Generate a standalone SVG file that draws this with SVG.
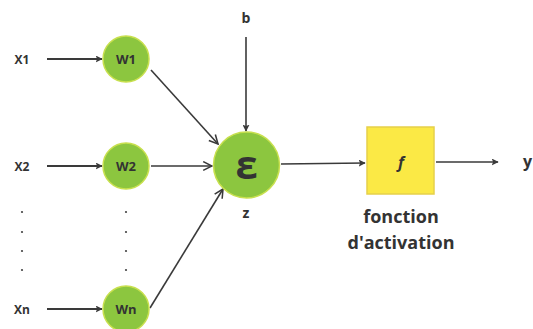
<svg xmlns="http://www.w3.org/2000/svg" width="533" height="329" viewBox="0 0 533 329">
<style>
text{font-family:"Open Sans","Noto Sans","Liberation Sans",sans-serif;font-weight:bold;fill:#333;text-anchor:middle}
.w{fill:#8cc63f;stroke:#c8e04e;stroke-width:1.5}
.ln{stroke:#3a3a3a;stroke-width:1.6;fill:none}
.dot{fill:#444}
</style>
<defs>
<marker id="fa" viewBox="0 0 10 10" refX="9" refY="5" markerWidth="7" markerHeight="7" orient="auto" markerUnits="userSpaceOnUse">
<path d="M0,0 L10,5 L0,10 L2,5 Z" fill="#3a3a3a"/>
</marker>
<marker id="oa" viewBox="0 0 10 10" refX="9" refY="5" markerWidth="11" markerHeight="11" orient="auto" markerUnits="userSpaceOnUse">
<path d="M1,1 L9,5 L1,9" fill="none" stroke="#3a3a3a" stroke-width="1.4"/>
</marker>
</defs>
<rect width="533" height="329" fill="#fff"/>
<g id="connectors">
<line class="ln" x1="47" y1="59" x2="102" y2="59" marker-end="url(#fa)" style="stroke-width:2"/>
<line class="ln" x1="47" y1="166" x2="102" y2="166" marker-end="url(#fa)" style="stroke-width:2"/>
<line class="ln" x1="47" y1="309" x2="102" y2="309" marker-end="url(#fa)" style="stroke-width:2"/>
<line class="ln" x1="151" y1="70" x2="218" y2="144" marker-end="url(#oa)"/>
<line class="ln" x1="151" y1="166" x2="212" y2="166" marker-end="url(#oa)"/>
<line class="ln" x1="150" y1="308" x2="223" y2="189" marker-end="url(#oa)"/>
<line class="ln" x1="246" y1="37" x2="246" y2="131" marker-end="url(#fa)"/>
<line class="ln" x1="281" y1="164" x2="365" y2="163" marker-end="url(#fa)"/>
<line class="ln" x1="436" y1="162" x2="498" y2="162" marker-end="url(#fa)"/>
</g>
<g id="x1"><text x="22" y="64" font-size="12">X1</text></g>
<g id="x2"><text x="22" y="171" font-size="12">X2</text></g>
<g id="xn"><text x="22" y="314" font-size="12">Xn</text></g>
<g id="dots-x">
<circle class="dot" cx="22" cy="212" r="1.1"/><circle class="dot" cx="22" cy="232" r="1.1"/><circle class="dot" cx="22" cy="251" r="1.1"/><circle class="dot" cx="22" cy="270" r="1.1"/>
</g>
<g id="dots-w">
<circle class="dot" cx="126" cy="212" r="1.1"/><circle class="dot" cx="126" cy="232" r="1.1"/><circle class="dot" cx="126" cy="251" r="1.1"/><circle class="dot" cx="126" cy="270" r="1.1"/>
</g>
<g id="w1"><circle class="w" cx="126" cy="59" r="23"/><text x="126" y="64" font-size="13">W1</text></g>
<g id="w2"><circle class="w" cx="126" cy="166" r="23"/><text x="126" y="171" font-size="13">W2</text></g>
<g id="wn"><circle class="w" cx="126" cy="309" r="23"/><text x="126" y="314" font-size="13">Wn</text></g>
<g id="b"><text x="246" y="23" font-size="14">b</text></g>
<g id="sum"><circle class="w" cx="246.5" cy="165" r="33"/><text x="246.5" y="179" font-size="40">ε</text></g>
<g id="z"><text x="246" y="218" font-size="14">z</text></g>
<g id="activation"><rect x="367" y="127" width="67" height="67" fill="#fbe945" stroke="#e6d04a" stroke-width="1.5"/><text x="401" y="168" font-size="16" font-style="italic">f</text></g>
<g id="label-activation"><text x="401" y="223" font-size="18">fonction</text><text x="401" y="249" font-size="18">d'activation</text></g>
<g id="y"><text x="523" y="167" font-size="16" style="text-anchor:start">y</text></g>
</svg>
